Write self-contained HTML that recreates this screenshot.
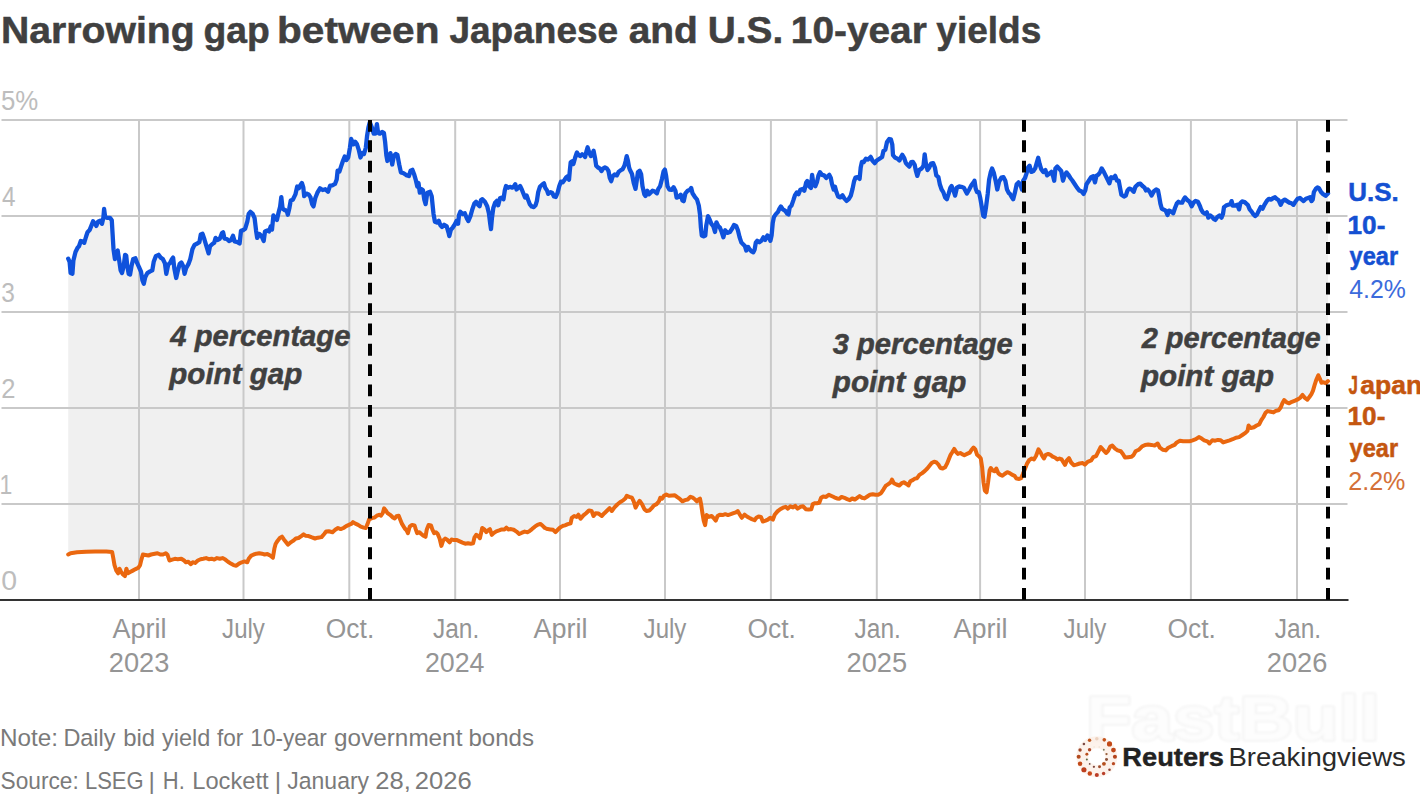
<!DOCTYPE html>
<html><head><meta charset="utf-8"><title>Narrowing gap between Japanese and U.S. 10-year yields</title>
<style>
html,body{margin:0;padding:0;background:#fff;}
body{width:1420px;height:796px;overflow:hidden;font-family:"Liberation Sans",sans-serif;}
svg{display:block;font-family:"Liberation Sans",sans-serif;}
.title{font-weight:bold;font-size:37.7px;fill:#404040;stroke:#404040;stroke-width:0.5px;}
.ylab{font-size:27px;fill:#bdbdbd;}
.xlab{font-size:27px;fill:#959595;}
.ann{font-weight:bold;font-style:italic;font-size:30px;fill:#404040;stroke:#404040;stroke-width:0.5px;}
.usl{font-weight:bold;font-size:26px;fill:#1450d2;stroke:#1450d2;stroke-width:0.5px;}
.usv{font-size:26px;fill:#3b6bdc;}
.jpl{font-weight:bold;font-size:26px;fill:#c4560f;stroke:#c4560f;stroke-width:0.5px;}
.jpv{font-size:26px;fill:#d47038;}
.foot{font-size:24.5px;fill:#7a7a7a;}
.lg1{font-weight:bold;font-size:25.6px;fill:#222;stroke:#222;stroke-width:0.4px;}
.lg2{font-size:25.6px;fill:#2a2a2a;}
</style></head><body>
<svg width="1420" height="796" viewBox="0 0 1420 796">
<rect width="1420" height="796" fill="#ffffff"/>
<defs><filter id="wmb" x="-5%" y="-20%" width="110%" height="140%"><feGaussianBlur stdDeviation="0.9"/></filter></defs>
<text x="1086" y="739.5" font-weight="bold" font-size="63" fill="#fdfdfd" stroke="#f3f3f3" stroke-width="3" paint-order="stroke" stroke-linejoin="round" filter="url(#wmb)" textLength="294" lengthAdjust="spacingAndGlyphs">FastBull</text>
<text class="title" y="43"><tspan x="0.92" textLength="193.73" lengthAdjust="spacingAndGlyphs">Narrowing</tspan> <tspan x="203.51" textLength="66.29" lengthAdjust="spacingAndGlyphs">gap</tspan> <tspan x="277.05" textLength="162.39" lengthAdjust="spacingAndGlyphs">between</tspan> <tspan x="449.40" textLength="168.80" lengthAdjust="spacingAndGlyphs">Japanese</tspan> <tspan x="628.67" textLength="69.21" lengthAdjust="spacingAndGlyphs">and</tspan> <tspan x="707.84" textLength="75.42" lengthAdjust="spacingAndGlyphs">U.S.</tspan> <tspan x="790.84" textLength="135.99" lengthAdjust="spacingAndGlyphs">10-year</tspan> <tspan x="936.30" textLength="104.93" lengthAdjust="spacingAndGlyphs">yields</tspan></text>
<path d="M68.2,258.7 L69.6,261.8 L70.6,273.1 L72.4,273.8 L73.4,260.4 L75.5,252.0 L77.6,247.7 L79.0,246.3 L80.8,241.0 L82.5,241.4 L84.2,242.8 L86.1,236.5 L87.5,232.3 L89.6,230.1 L91.3,225.9 L93.1,221.3 L94.9,223.5 L96.3,225.9 L98.0,221.7 L100.1,220.7 L102.0,223.8 L103.4,217.5 L104.1,209.0 L105.1,216.8 L107.2,217.9 L110.0,217.9 L111.8,220.3 L112.5,232.3 L113.5,249.2 L114.9,259.0 L116.3,252.0 L117.7,250.6 L119.2,260.4 L120.6,270.3 L122.0,273.1 L123.7,266.1 L125.1,254.8 L126.2,255.5 L127.3,266.1 L128.7,273.8 L130.1,274.5 L131.5,266.1 L133.2,259.0 L135.4,258.3 L137.2,263.2 L138.9,266.8 L141.0,271.7 L142.4,280.1 L143.8,283.7 L145.2,277.3 L147.3,273.1 L150.1,271.4 L152.3,270.3 L153.7,261.8 L155.8,256.2 L158.6,254.8 L160.7,257.6 L162.8,259.0 L164.9,263.2 L166.3,273.8 L168.2,264.6 L169.9,263.2 L172.0,259.0 L173.1,257.6 L174.4,268.9 L176.2,278.0 L177.6,271.7 L179.7,263.9 L181.4,262.5 L183.2,266.1 L184.6,273.8 L186.1,268.2 L188.5,263.9 L190.3,259.0 L192.4,249.2 L194.5,244.9 L197.3,243.5 L199.4,242.1 L200.8,234.4 L202.5,233.7 L204.4,239.3 L206.5,246.3 L208.6,253.4 L210.0,246.3 L212.1,244.2 L214.2,242.8 L215.6,237.9 L217.7,240.0 L219.9,238.6 L222.0,233.0 L223.1,232.3 L224.5,238.6 L226.9,239.0 L229.0,241.0 L231.1,240.0 L233.0,235.8 L234.6,241.4 L237.5,242.1 L239.6,243.5 L241.0,230.8 L243.1,230.1 L245.2,228.7 L247.3,221.7 L248.7,213.9 L250.4,211.8 L252.7,213.9 L254.6,218.2 L256.1,230.8 L257.2,237.9 L259.3,234.0 L261.5,235.8 L263.7,241.0 L265.0,231.4 L267.3,230.5 L269.0,231.4 L270.8,226.1 L272.0,229.6 L273.4,215.5 L275.2,218.2 L276.9,219.9 L278.7,212.0 L280.1,206.7 L281.3,197.1 L282.6,208.5 L284.9,210.3 L286.6,210.3 L287.8,214.7 L289.3,208.5 L290.7,200.6 L292.8,199.7 L295.4,194.4 L297.2,186.5 L298.9,188.3 L300.7,184.8 L301.9,183.0 L303.3,187.4 L304.2,196.2 L306.5,193.6 L308.6,194.4 L310.4,197.1 L312.1,204.1 L313.5,206.4 L315.3,198.0 L317.4,192.7 L320.0,188.3 L322.7,190.0 L325.3,189.2 L328.0,191.8 L330.1,185.6 L332.3,185.3 L335.0,183.9 L336.7,179.5 L337.6,170.7 L339.4,171.6 L341.1,166.3 L342.9,161.0 L344.7,156.6 L346.4,160.1 L348.2,157.5 L349.9,147.8 L351.2,139.0 L353.5,144.3 L355.2,141.7 L357.0,144.3 L358.7,149.6 L360.5,157.5 L362.3,153.1 L364.0,154.0 L365.8,147.8 L367.0,136.4 L368.4,127.6 L369.8,122.3 L371.9,127.6 L373.7,133.7 L375.4,133.7 L376.9,124.1 L378.1,132.9 L379.8,133.7 L382.1,132.0 L383.9,132.9 L385.1,141.7 L386.4,155.7 L387.4,161.0 L389.2,156.6 L390.4,153.1 L392.2,164.5 L393.9,155.7 L395.7,154.0 L397.4,154.9 L399.2,164.5 L400.9,172.4 L403.6,173.3 L406.2,175.1 L408.9,176.0 L410.6,170.7 L412.4,169.8 L414.1,174.2 L415.9,180.4 L417.3,186.5 L418.5,183.0 L419.8,192.7 L421.5,189.2 L422.9,190.0 L424.3,199.7 L425.6,204.1 L427.3,192.7 L430.0,191.8 L431.7,196.2 L433.5,213.8 L434.9,221.7 L437.0,222.6 L438.8,220.8 L440.0,224.3 L440.6,225.5 L442.0,226.9 L444.1,224.7 L446.7,226.4 L448.5,232.6 L449.3,236.1 L450.8,229.9 L452.9,227.3 L454.6,224.7 L456.4,221.1 L458.1,223.8 L459.0,215.0 L460.3,211.8 L462.5,214.1 L464.8,213.2 L466.9,218.5 L468.3,221.1 L470.5,215.9 L472.2,209.7 L474.3,203.6 L476.1,201.8 L477.8,204.4 L479.6,206.2 L481.0,200.0 L482.4,199.2 L484.9,201.8 L487.2,206.2 L488.9,213.2 L490.2,223.8 L491.0,229.1 L491.9,218.5 L493.3,208.0 L495.1,202.7 L496.8,200.9 L498.2,205.3 L500.0,198.3 L502.1,197.4 L503.5,199.2 L504.8,190.4 L506.0,186.0 L508.3,187.7 L510.0,186.8 L512.3,187.7 L514.1,186.0 L515.3,184.2 L516.5,189.5 L518.3,187.7 L520.1,186.0 L521.8,189.5 L523.2,193.0 L525.0,197.4 L526.7,195.6 L528.2,200.0 L529.9,204.4 L531.7,206.5 L533.8,207.1 L535.5,205.3 L536.9,200.9 L538.2,192.1 L539.9,186.8 L542.6,184.2 L544.0,183.3 L545.2,187.7 L547.0,190.4 L548.2,193.9 L550.5,192.1 L552.3,193.0 L554.0,196.5 L555.8,197.0 L557.5,193.0 L559.3,186.0 L561.0,181.6 L562.8,182.4 L564.6,179.8 L566.3,177.2 L567.6,176.3 L569.0,179.8 L569.8,171.0 L570.7,162.2 L572.1,161.3 L573.4,164.0 L575.1,157.8 L576.9,152.5 L578.6,155.2 L580.4,156.1 L582.2,154.3 L583.9,155.2 L585.1,156.9 L586.6,150.8 L587.6,147.3 L589.2,152.5 L590.9,156.1 L592.7,153.4 L593.6,150.8 L595.0,157.8 L596.2,165.7 L598.0,167.5 L599.7,168.4 L601.5,171.0 L603.3,168.4 L605.0,167.5 L606.8,168.4 L608.5,171.0 L609.8,178.0 L611.2,181.2 L612.6,176.3 L614.7,174.5 L616.8,175.4 L618.6,171.9 L620.9,170.1 L622.6,169.3 L624.4,165.7 L625.6,161.3 L626.7,156.1 L627.9,160.5 L629.1,167.5 L630.0,170.1 L632.0,174.0 L633.7,182.8 L635.5,188.9 L636.7,181.0 L637.9,172.2 L639.7,170.8 L641.1,174.0 L642.5,186.3 L644.3,194.2 L645.5,196.0 L647.3,190.7 L649.0,194.2 L650.8,192.4 L652.5,190.7 L654.8,191.6 L656.9,193.3 L658.3,188.9 L660.1,186.3 L661.9,179.3 L663.6,171.3 L664.9,169.6 L666.1,175.7 L667.5,186.3 L669.3,189.5 L671.9,189.8 L673.6,187.2 L675.4,190.7 L676.6,197.7 L678.9,196.8 L680.7,194.7 L682.4,200.4 L683.7,201.2 L685.4,193.3 L687.7,190.7 L690.0,189.8 L691.2,188.0 L692.5,193.3 L694.8,196.8 L697.0,199.5 L698.8,205.6 L700.0,214.4 L700.9,227.6 L701.8,235.5 L703.6,236.4 L705.3,235.5 L706.2,225.9 L708.0,216.2 L709.7,219.7 L711.5,224.1 L713.2,225.9 L715.0,232.0 L716.4,222.3 L718.2,225.9 L719.9,227.6 L721.7,232.0 L723.4,237.3 L725.2,230.3 L727.3,232.9 L729.9,232.0 L732.2,228.5 L734.0,225.0 L736.1,225.9 L737.9,230.3 L739.6,237.3 L741.4,242.6 L743.1,244.3 L744.9,246.1 L746.3,250.5 L748.1,247.0 L749.8,249.6 L751.6,251.4 L753.3,252.3 L754.6,249.6 L755.8,242.6 L757.2,240.8 L759.3,242.2 L761.6,240.5 L763.4,237.3 L765.1,239.9 L767.4,235.5 L769.2,237.3 L770.4,240.8 L771.6,235.5 L772.7,223.2 L773.9,217.1 L775.7,214.4 L778.0,211.8 L779.2,209.2 L780.9,206.5 L782.7,209.2 L785.3,210.9 L787.1,213.6 L788.5,214.4 L789.7,207.4 L791.5,205.6 L793.3,200.4 L795.0,195.1 L796.8,192.4 L798.5,194.2 L800.3,189.8 L802.6,188.9 L804.3,190.7 L806.1,182.8 L807.3,181.0 L809.1,186.3 L810.9,188.0 L812.1,174.9 L813.5,184.5 L815.3,186.3 L817.0,181.9 L818.4,175.7 L820.0,172.2 L822.0,174.9 L824.1,175.4 L826.2,178.0 L827.6,176.3 L829.3,174.9 L830.8,178.0 L832.0,184.2 L833.7,189.5 L835.0,186.8 L836.4,192.1 L838.1,196.5 L840.3,197.4 L842.5,195.3 L844.3,198.3 L846.6,200.9 L848.7,199.2 L850.8,195.6 L852.6,188.6 L854.0,181.6 L855.4,177.7 L857.5,177.2 L859.6,178.9 L860.7,167.5 L861.9,161.9 L863.6,162.2 L865.9,158.7 L868.0,159.6 L870.7,156.9 L872.4,160.5 L874.7,163.1 L876.8,160.5 L879.5,158.7 L882.1,156.9 L883.5,150.8 L885.3,149.9 L887.0,142.0 L889.2,139.0 L890.9,139.3 L892.3,144.6 L893.0,155.2 L895.3,157.8 L897.6,158.7 L899.4,160.5 L901.1,156.9 L902.3,154.8 L904.1,157.8 L905.9,163.1 L907.6,164.9 L909.4,166.6 L911.1,162.2 L912.9,161.9 L914.7,164.9 L915.9,171.0 L917.3,175.9 L919.1,170.1 L921.7,168.4 L923.5,165.7 L924.7,154.3 L925.7,162.2 L927.5,170.1 L929.3,167.5 L931.0,163.6 L933.1,163.1 L934.9,167.5 L936.3,175.4 L938.4,177.2 L939.8,184.2 L941.6,189.5 L943.3,192.1 L945.1,197.4 L946.9,199.2 L948.6,193.9 L950.4,187.7 L951.6,186.0 L953.4,190.4 L955.1,195.6 L956.9,187.7 L959.2,186.5 L961.3,186.8 L963.9,187.7 L965.7,191.2 L966.9,193.5 L969.2,189.5 L971.5,185.1 L973.6,182.4 L974.5,180.7 L975.7,188.6 L977.1,192.1 L978.9,192.1 L980.3,198.3 L982.0,208.0 L983.3,215.9 L984.5,216.7 L985.9,208.0 L987.7,193.9 L989.1,179.8 L990.8,171.9 L992.1,168.4 L993.8,172.8 L995.6,180.7 L997.3,189.5 L999.1,181.6 L1001.4,177.7 L1003.5,177.2 L1005.3,180.7 L1007.0,189.5 L1008.8,193.0 L1010.0,193.9 L1011.4,196.5 L1013.2,199.2 L1015.0,192.1 L1016.7,184.2 L1018.5,182.4 L1020.2,184.2 L1022.0,189.5 L1023.2,180.7 L1025.0,178.0 L1026.7,172.8 L1028.1,167.5 L1029.6,165.7 L1031.3,171.9 L1033.4,171.0 L1035.2,168.4 L1036.9,162.2 L1038.2,157.8 L1039.6,164.0 L1041.3,169.3 L1043.1,171.9 L1045.4,170.1 L1047.1,175.4 L1049.3,173.6 L1051.4,171.9 L1053.1,176.3 L1054.2,180.7 L1055.4,168.4 L1057.2,166.6 L1058.9,168.4 L1061.2,171.0 L1063.0,180.7 L1064.7,175.4 L1066.5,172.4 L1068.2,174.5 L1070.4,178.0 L1072.5,180.7 L1074.8,184.2 L1077.0,187.7 L1079.2,190.4 L1081.3,191.2 L1083.6,193.9 L1085.3,190.4 L1086.5,184.2 L1088.8,180.7 L1091.1,177.2 L1093.2,176.3 L1095.0,182.4 L1096.4,175.9 L1098.5,174.5 L1100.3,171.9 L1101.7,168.4 L1103.8,171.9 L1105.5,175.4 L1107.7,179.8 L1109.4,183.3 L1111.2,177.2 L1113.5,178.0 L1115.2,175.9 L1117.0,180.7 L1118.7,180.7 L1120.0,187.7 L1121.4,194.8 L1124.0,196.5 L1125.8,195.6 L1127.5,190.4 L1129.3,188.6 L1131.6,189.5 L1133.7,191.8 L1135.4,186.8 L1138.1,184.2 L1140.4,183.7 L1142.5,186.0 L1144.6,187.7 L1146.0,190.4 L1147.8,189.5 L1149.9,192.1 L1151.6,195.6 L1153.9,191.2 L1156.2,189.5 L1158.0,190.4 L1159.2,196.5 L1160.4,203.6 L1161.8,208.8 L1163.9,209.7 L1165.7,210.6 L1167.5,215.0 L1168.9,210.6 L1171.0,211.5 L1173.3,213.2 L1175.0,208.0 L1176.8,203.6 L1178.5,201.8 L1180.3,202.7 L1182.1,202.7 L1183.8,199.2 L1185.0,197.4 L1187.3,200.0 L1189.6,201.8 L1191.7,206.2 L1193.5,202.7 L1195.6,200.9 L1197.9,201.8 L1200.0,206.2 L1201.1,209.4 L1202.9,212.4 L1204.9,213.9 L1206.8,212.4 L1208.3,217.6 L1210.2,215.4 L1212.0,216.9 L1213.9,219.1 L1215.4,219.9 L1217.4,216.9 L1219.5,215.4 L1221.5,217.6 L1223.0,213.9 L1224.0,207.1 L1226.0,205.6 L1228.2,204.8 L1230.5,204.1 L1231.6,201.1 L1232.8,205.6 L1235.0,205.6 L1237.3,204.8 L1239.1,209.4 L1240.3,203.3 L1242.1,201.5 L1244.1,201.8 L1246.0,203.3 L1247.8,204.8 L1249.7,209.4 L1251.6,211.6 L1253.6,214.6 L1255.1,216.1 L1256.9,214.6 L1258.7,210.9 L1260.7,207.1 L1262.6,208.6 L1264.4,204.8 L1266.7,201.1 L1268.9,198.8 L1271.2,199.6 L1273.2,198.0 L1275.0,197.3 L1276.5,198.8 L1278.7,200.3 L1280.7,204.8 L1282.5,201.1 L1284.8,199.6 L1287.0,201.1 L1289.3,202.6 L1291.6,203.3 L1293.4,204.8 L1295.3,201.8 L1297.6,198.8 L1299.9,198.0 L1301.8,199.6 L1303.6,201.1 L1305.9,198.8 L1308.1,198.0 L1310.0,197.3 L1311.5,201.1 L1312.7,199.6 L1313.9,192.0 L1315.7,189.0 L1317.5,187.5 L1319.0,188.2 L1321.0,192.0 L1323.2,194.3 L1325.5,195.8 L1328.0,193.5 L1328.0,381.1 L1325.7,383.2 L1323.6,382.2 L1321.5,382.8 L1320.0,379.0 L1318.3,375.2 L1316.2,380.1 L1314.5,385.4 L1313.0,390.6 L1311.6,393.8 L1309.4,397.0 L1307.3,399.7 L1304.6,397.6 L1302.5,394.9 L1300.4,397.6 L1298.2,399.1 L1295.1,400.6 L1291.9,401.8 L1289.2,403.3 L1286.6,402.3 L1284.1,400.1 L1282.4,403.3 L1280.7,407.5 L1278.6,410.3 L1276.1,410.7 L1273.5,412.4 L1270.8,411.8 L1267.6,411.1 L1265.5,412.8 L1263.4,417.0 L1261.3,420.2 L1259.2,424.4 L1256.6,425.5 L1253.9,427.2 L1250.7,428.0 L1248.6,425.5 L1247.5,430.8 L1245.4,432.9 L1242.3,435.0 L1239.1,437.1 L1235.9,437.7 L1232.7,439.2 L1229.6,440.3 L1226.4,441.3 L1223.2,442.4 L1220.7,440.3 L1218.0,439.9 L1215.2,440.7 L1212.3,440.3 L1209.5,443.5 L1207.4,441.3 L1204.2,440.3 L1201.7,438.6 L1198.9,437.1 L1195.8,439.2 L1192.6,440.3 L1189.4,441.3 L1186.3,441.3 L1183.1,441.3 L1179.9,440.7 L1176.8,442.4 L1174.6,444.9 L1171.5,446.2 L1168.3,447.7 L1165.8,450.4 L1163.0,449.8 L1159.9,447.7 L1157.7,443.5 L1154.6,445.6 L1151.4,444.9 L1148.2,444.5 L1145.1,444.9 L1141.9,446.6 L1138.7,449.8 L1135.6,451.3 L1133.5,455.1 L1131.3,456.8 L1128.2,457.2 L1125.0,457.6 L1122.9,454.0 L1120.8,451.3 L1117.6,450.4 L1115.1,448.7 L1112.3,445.6 L1110.2,446.6 L1108.1,450.8 L1106.0,453.0 L1103.2,449.8 L1100.7,447.0 L1098.2,451.9 L1096.1,456.1 L1093.3,457.2 L1091.2,460.4 L1087.6,461.8 L1084.9,464.6 L1082.7,463.1 L1079.6,463.5 L1076.4,464.6 L1073.7,465.2 L1071.1,462.5 L1069.0,458.2 L1066.9,460.4 L1065.0,464.9 L1063.5,462.5 L1061.7,459.4 L1059.5,458.5 L1057.3,459.4 L1054.9,457.5 L1052.6,456.6 L1050.4,454.8 L1048.2,453.9 L1045.8,454.8 L1043.9,458.5 L1042.1,455.7 L1040.3,452.0 L1038.5,449.3 L1036.1,455.7 L1033.9,459.4 L1031.7,458.5 L1029.3,459.9 L1026.9,463.9 L1024.7,469.4 L1022.9,474.0 L1021.1,478.2 L1019.2,479.0 L1016.5,478.6 L1014.6,475.8 L1011.9,474.6 L1009.7,473.1 L1007.3,472.2 L1004.6,474.0 L1002.4,475.8 L1000.0,474.6 L998.2,473.1 L996.3,468.5 L994.5,471.3 L992.7,470.4 L990.8,468.0 L989.6,470.4 L988.1,482.3 L986.6,492.3 L984.8,490.5 L983.5,482.3 L982.2,467.6 L980.8,458.5 L979.3,456.6 L977.1,454.8 L975.3,449.3 L973.5,447.5 L971.6,449.7 L969.8,452.6 L967.0,453.9 L964.3,455.2 L962.5,454.4 L960.3,453.0 L957.9,453.9 L956.1,452.0 L954.2,448.9 L952.4,452.0 L950.6,454.8 L948.7,459.4 L946.9,463.9 L945.1,467.2 L942.7,468.5 L940.5,468.0 L938.7,464.9 L936.5,462.5 L934.1,461.7 L931.7,463.0 L929.5,465.8 L927.3,468.5 L924.9,470.9 L922.2,473.1 L919.4,474.9 L917.1,478.2 L914.9,478.6 L912.7,480.1 L910.3,481.3 L908.5,485.5 L906.1,483.7 L903.9,482.3 L901.7,483.2 L899.3,485.5 L896.5,484.5 L893.8,483.2 L892.0,479.5 L890.7,482.3 L888.3,484.1 L885.6,485.9 L883.4,489.6 L881.0,493.2 L878.2,494.7 L875.5,494.7 L872.7,494.2 L870.0,494.7 L867.3,496.5 L864.5,498.4 L862.1,497.8 L859.6,496.0 L857.2,497.8 L854.8,499.6 L852.2,498.4 L849.9,500.2 L847.1,499.1 L844.4,497.8 L841.6,496.9 L839.4,498.7 L837.0,498.4 L834.3,497.3 L831.5,496.0 L828.8,494.7 L826.1,496.9 L823.3,496.5 L821.1,497.8 L819.3,502.8 L816.9,503.3 L815.0,503.2 L812.8,504.1 L811.3,509.2 L808.6,509.6 L805.8,509.2 L803.1,506.3 L800.4,506.8 L797.6,508.7 L795.2,505.9 L793.0,507.4 L790.3,506.3 L787.9,508.7 L785.7,506.8 L783.0,507.7 L780.2,509.2 L777.5,511.4 L774.7,514.7 L772.9,519.6 L770.1,517.8 L767.8,519.6 L765.6,520.6 L762.8,521.5 L761.0,516.9 L758.6,516.5 L756.4,517.8 L754.6,520.2 L751.8,519.1 L749.1,517.8 L746.9,516.5 L744.5,514.7 L741.8,517.8 L739.6,514.2 L737.7,511.0 L735.9,512.3 L733.5,513.2 L730.8,514.2 L728.0,515.1 L725.3,514.2 L722.5,515.1 L719.8,514.7 L717.6,516.0 L715.8,520.6 L713.4,517.8 L711.6,516.0 L708.8,516.9 L706.6,515.1 L705.1,525.1 L703.7,520.6 L702.4,513.2 L701.1,504.1 L700.0,498.6 L698.7,499.5 L696.9,501.3 L695.1,499.5 L692.7,497.7 L690.5,496.8 L687.7,499.5 L685.0,500.1 L682.3,501.3 L679.5,498.6 L677.3,497.1 L674.9,495.3 L672.2,495.5 L668.9,495.8 L666.3,494.6 L663.9,495.8 L662.1,498.6 L660.3,497.7 L659.0,501.3 L656.6,504.1 L653.9,505.5 L651.7,508.1 L649.3,510.5 L646.5,511.0 L644.4,509.2 L642.0,504.1 L639.6,500.8 L637.4,504.1 L635.6,507.7 L633.7,501.3 L631.9,497.7 L629.2,496.8 L626.8,495.8 L625.5,498.2 L623.1,500.4 L620.0,502.3 L617.3,504.5 L614.5,507.4 L611.8,511.0 L609.6,508.1 L607.2,510.5 L604.4,513.2 L601.7,516.0 L598.6,513.6 L595.6,513.2 L593.5,516.0 L591.6,511.0 L588.9,510.5 L586.1,513.2 L583.4,515.4 L580.6,518.7 L578.4,514.7 L576.6,516.9 L574.2,516.0 L571.8,517.8 L570.6,523.3 L567.8,524.2 L565.0,525.4 L563.2,525.8 L560.4,527.2 L557.7,529.8 L555.5,532.2 L553.1,529.8 L550.4,529.4 L547.6,529.1 L544.9,528.0 L542.7,525.8 L540.3,523.9 L537.5,524.9 L534.8,526.7 L532.0,529.1 L529.3,531.3 L527.5,532.2 L524.7,531.6 L522.0,532.7 L519.2,534.0 L516.5,531.6 L513.7,529.8 L511.0,529.1 L508.2,529.4 L506.4,527.6 L504.6,529.4 L501.8,529.4 L499.1,530.4 L496.3,531.3 L493.6,533.1 L491.8,534.9 L489.9,529.1 L488.1,530.4 L486.3,532.2 L484.4,529.4 L482.2,528.0 L481.1,533.1 L479.9,538.2 L478.0,535.8 L476.2,534.9 L474.4,537.7 L473.1,543.2 L470.7,543.7 L468.0,543.2 L465.2,543.7 L462.5,542.6 L459.7,541.3 L457.0,540.1 L454.2,540.1 L451.5,539.5 L449.6,542.3 L446.9,539.5 L445.1,538.6 L443.2,540.4 L441.4,545.9 L439.6,538.6 L437.7,534.0 L435.9,532.2 L434.1,533.1 L432.3,529.4 L431.0,525.4 L428.6,524.9 L426.8,529.4 L425.5,536.8 L423.6,535.8 L421.3,534.0 L419.4,532.2 L417.1,533.1 L415.8,529.4 L414.5,525.4 L412.1,524.9 L409.7,526.7 L407.9,533.1 L406.6,530.4 L404.8,528.5 L402.0,523.9 L400.2,519.4 L398.7,515.7 L396.5,516.3 L394.7,518.5 L392.9,517.5 L390.1,514.8 L387.4,513.0 L385.6,510.2 L384.1,508.4 L382.8,513.0 L381.0,515.7 L379.2,514.8 L376.8,515.7 L374.6,517.5 L371.8,518.1 L369.1,519.4 L367.6,523.9 L365.8,528.0 L363.6,527.6 L360.8,526.7 L358.1,524.9 L355.4,523.6 L353.0,522.1 L351.7,523.6 L348.9,524.9 L346.2,526.1 L343.5,528.0 L340.7,529.1 L338.0,528.0 L335.2,529.8 L332.5,532.2 L328.8,531.3 L326.1,531.6 L324.2,534.0 L321.5,537.1 L317.8,537.7 L315.0,538.5 L311.3,537.2 L308.6,536.1 L305.8,535.8 L303.6,534.3 L301.3,536.1 L298.5,538.0 L295.8,538.5 L293.0,540.9 L290.3,542.7 L287.9,544.6 L286.1,542.2 L283.9,539.4 L282.0,536.7 L279.8,538.0 L277.5,540.9 L275.6,544.0 L274.4,548.6 L272.9,557.7 L270.1,555.5 L267.4,554.1 L264.6,554.5 L261.9,553.7 L259.2,553.2 L256.4,553.7 L253.7,554.5 L250.9,555.9 L248.7,558.7 L247.3,562.3 L244.5,561.4 L241.8,562.3 L239.0,563.6 L236.3,565.8 L233.5,565.1 L230.8,563.6 L228.0,561.8 L225.3,559.6 L222.5,558.1 L219.8,558.7 L217.0,558.1 L214.3,559.6 L211.6,558.7 L208.8,559.2 L206.1,558.1 L203.3,558.7 L200.6,559.2 L197.8,560.5 L195.1,562.9 L192.7,562.3 L190.9,564.2 L188.3,561.8 L185.9,562.3 L184.1,560.5 L181.3,558.7 L177.7,559.2 L174.9,558.8 L172.2,559.6 L169.4,560.5 L167.6,555.0 L165.8,553.2 L163.0,554.5 L160.3,554.5 L157.5,553.2 L154.8,553.7 L151.1,554.5 L148.4,555.5 L145.6,555.0 L142.9,554.5 L141.4,559.6 L140.1,565.1 L138.3,567.8 L135.6,569.1 L132.8,570.6 L130.1,572.0 L127.9,573.3 L126.4,568.7 L124.9,576.1 L122.7,574.2 L120.9,571.5 L119.5,568.7 L118.2,573.3 L116.3,570.6 L114.5,565.1 L113.2,557.7 L112.1,551.9 L106.3,551.5 L95.3,551.5 L86.1,551.7 L77.0,552.3 L70.6,553.2 L68.2,554.5 Z" fill="#f0f0f0" stroke="none"/>
<line x1="1.5" x2="1347.5" y1="120" y2="120" stroke="#c9c9c9" stroke-width="2"/>
<line x1="1.5" x2="1347.5" y1="216" y2="216" stroke="#c9c9c9" stroke-width="2"/>
<line x1="1.5" x2="1347.5" y1="312" y2="312" stroke="#c9c9c9" stroke-width="2"/>
<line x1="1.5" x2="1347.5" y1="408" y2="408" stroke="#c9c9c9" stroke-width="2"/>
<line x1="1.5" x2="1347.5" y1="504" y2="504" stroke="#c9c9c9" stroke-width="2"/>
<line x1="139" x2="139" y1="120" y2="600" stroke="#c9c9c9" stroke-width="2"/>
<line x1="243.5" x2="243.5" y1="120" y2="600" stroke="#c9c9c9" stroke-width="2"/>
<line x1="349.3" x2="349.3" y1="120" y2="600" stroke="#c9c9c9" stroke-width="2"/>
<line x1="455.2" x2="455.2" y1="120" y2="600" stroke="#c9c9c9" stroke-width="2"/>
<line x1="560" x2="560" y1="120" y2="600" stroke="#c9c9c9" stroke-width="2"/>
<line x1="665" x2="665" y1="120" y2="600" stroke="#c9c9c9" stroke-width="2"/>
<line x1="770.9" x2="770.9" y1="120" y2="600" stroke="#c9c9c9" stroke-width="2"/>
<line x1="876.8" x2="876.8" y1="120" y2="600" stroke="#c9c9c9" stroke-width="2"/>
<line x1="980.1" x2="980.1" y1="120" y2="600" stroke="#c9c9c9" stroke-width="2"/>
<line x1="1085.0" x2="1085.0" y1="120" y2="600" stroke="#c9c9c9" stroke-width="2"/>
<line x1="1190.9" x2="1190.9" y1="120" y2="600" stroke="#c9c9c9" stroke-width="2"/>
<line x1="1297" x2="1297" y1="120" y2="600" stroke="#c9c9c9" stroke-width="2"/>
<line x1="0" x2="1348.5" y1="600" y2="600" stroke="#333333" stroke-width="2"/>
<text class="ylab" x="0.94" y="110" textLength="37.34" lengthAdjust="spacingAndGlyphs">5%</text>
<text class="ylab" x="1.90" y="206" textLength="13.53" lengthAdjust="spacingAndGlyphs">4</text>
<text class="ylab" x="1.19" y="302" textLength="13.64" lengthAdjust="spacingAndGlyphs">3</text>
<text class="ylab" x="1.15" y="398" textLength="14.22" lengthAdjust="spacingAndGlyphs">2</text>
<text class="ylab" x="-0.40" y="494" textLength="12.78" lengthAdjust="spacingAndGlyphs">1</text>
<text class="ylab" x="1.25" y="590" textLength="15.84" lengthAdjust="spacingAndGlyphs">0</text>
<text class="ann" x="170.37" y="345.5" textLength="180.02" lengthAdjust="spacingAndGlyphs">4 percentage</text>
<text class="ann" x="169.29" y="383.5" textLength="132.98" lengthAdjust="spacingAndGlyphs">point gap</text>
<text class="ann" x="832.70" y="353.6" textLength="180.09" lengthAdjust="spacingAndGlyphs">3 percentage</text>
<text class="ann" x="832.79" y="391.5" textLength="133.58" lengthAdjust="spacingAndGlyphs">point gap</text>
<text class="ann" x="1141.67" y="347.6" textLength="179.12" lengthAdjust="spacingAndGlyphs">2 percentage</text>
<text class="ann" x="1140.99" y="385.6" textLength="133.18" lengthAdjust="spacingAndGlyphs">point gap</text>
<path d="M68.2,554.5 L70.6,553.2 L77.0,552.3 L86.1,551.7 L95.3,551.5 L106.3,551.5 L112.1,551.9 L113.2,557.7 L114.5,565.1 L116.3,570.6 L118.2,573.3 L119.5,568.7 L120.9,571.5 L122.7,574.2 L124.9,576.1 L126.4,568.7 L127.9,573.3 L130.1,572.0 L132.8,570.6 L135.6,569.1 L138.3,567.8 L140.1,565.1 L141.4,559.6 L142.9,554.5 L145.6,555.0 L148.4,555.5 L151.1,554.5 L154.8,553.7 L157.5,553.2 L160.3,554.5 L163.0,554.5 L165.8,553.2 L167.6,555.0 L169.4,560.5 L172.2,559.6 L174.9,558.8 L177.7,559.2 L181.3,558.7 L184.1,560.5 L185.9,562.3 L188.3,561.8 L190.9,564.2 L192.7,562.3 L195.1,562.9 L197.8,560.5 L200.6,559.2 L203.3,558.7 L206.1,558.1 L208.8,559.2 L211.6,558.7 L214.3,559.6 L217.0,558.1 L219.8,558.7 L222.5,558.1 L225.3,559.6 L228.0,561.8 L230.8,563.6 L233.5,565.1 L236.3,565.8 L239.0,563.6 L241.8,562.3 L244.5,561.4 L247.3,562.3 L248.7,558.7 L250.9,555.9 L253.7,554.5 L256.4,553.7 L259.2,553.2 L261.9,553.7 L264.6,554.5 L267.4,554.1 L270.1,555.5 L272.9,557.7 L274.4,548.6 L275.6,544.0 L277.5,540.9 L279.8,538.0 L282.0,536.7 L283.9,539.4 L286.1,542.2 L287.9,544.6 L290.3,542.7 L293.0,540.9 L295.8,538.5 L298.5,538.0 L301.3,536.1 L303.6,534.3 L305.8,535.8 L308.6,536.1 L311.3,537.2 L315.0,538.5 L317.8,537.7 L321.5,537.1 L324.2,534.0 L326.1,531.6 L328.8,531.3 L332.5,532.2 L335.2,529.8 L338.0,528.0 L340.7,529.1 L343.5,528.0 L346.2,526.1 L348.9,524.9 L351.7,523.6 L353.0,522.1 L355.4,523.6 L358.1,524.9 L360.8,526.7 L363.6,527.6 L365.8,528.0 L367.6,523.9 L369.1,519.4 L371.8,518.1 L374.6,517.5 L376.8,515.7 L379.2,514.8 L381.0,515.7 L382.8,513.0 L384.1,508.4 L385.6,510.2 L387.4,513.0 L390.1,514.8 L392.9,517.5 L394.7,518.5 L396.5,516.3 L398.7,515.7 L400.2,519.4 L402.0,523.9 L404.8,528.5 L406.6,530.4 L407.9,533.1 L409.7,526.7 L412.1,524.9 L414.5,525.4 L415.8,529.4 L417.1,533.1 L419.4,532.2 L421.3,534.0 L423.6,535.8 L425.5,536.8 L426.8,529.4 L428.6,524.9 L431.0,525.4 L432.3,529.4 L434.1,533.1 L435.9,532.2 L437.7,534.0 L439.6,538.6 L441.4,545.9 L443.2,540.4 L445.1,538.6 L446.9,539.5 L449.6,542.3 L451.5,539.5 L454.2,540.1 L457.0,540.1 L459.7,541.3 L462.5,542.6 L465.2,543.7 L468.0,543.2 L470.7,543.7 L473.1,543.2 L474.4,537.7 L476.2,534.9 L478.0,535.8 L479.9,538.2 L481.1,533.1 L482.2,528.0 L484.4,529.4 L486.3,532.2 L488.1,530.4 L489.9,529.1 L491.8,534.9 L493.6,533.1 L496.3,531.3 L499.1,530.4 L501.8,529.4 L504.6,529.4 L506.4,527.6 L508.2,529.4 L511.0,529.1 L513.7,529.8 L516.5,531.6 L519.2,534.0 L522.0,532.7 L524.7,531.6 L527.5,532.2 L529.3,531.3 L532.0,529.1 L534.8,526.7 L537.5,524.9 L540.3,523.9 L542.7,525.8 L544.9,528.0 L547.6,529.1 L550.4,529.4 L553.1,529.8 L555.5,532.2 L557.7,529.8 L560.4,527.2 L563.2,525.8 L565.0,525.4 L567.8,524.2 L570.6,523.3 L571.8,517.8 L574.2,516.0 L576.6,516.9 L578.4,514.7 L580.6,518.7 L583.4,515.4 L586.1,513.2 L588.9,510.5 L591.6,511.0 L593.5,516.0 L595.6,513.2 L598.6,513.6 L601.7,516.0 L604.4,513.2 L607.2,510.5 L609.6,508.1 L611.8,511.0 L614.5,507.4 L617.3,504.5 L620.0,502.3 L623.1,500.4 L625.5,498.2 L626.8,495.8 L629.2,496.8 L631.9,497.7 L633.7,501.3 L635.6,507.7 L637.4,504.1 L639.6,500.8 L642.0,504.1 L644.4,509.2 L646.5,511.0 L649.3,510.5 L651.7,508.1 L653.9,505.5 L656.6,504.1 L659.0,501.3 L660.3,497.7 L662.1,498.6 L663.9,495.8 L666.3,494.6 L668.9,495.8 L672.2,495.5 L674.9,495.3 L677.3,497.1 L679.5,498.6 L682.3,501.3 L685.0,500.1 L687.7,499.5 L690.5,496.8 L692.7,497.7 L695.1,499.5 L696.9,501.3 L698.7,499.5 L700.0,498.6 L701.1,504.1 L702.4,513.2 L703.7,520.6 L705.1,525.1 L706.6,515.1 L708.8,516.9 L711.6,516.0 L713.4,517.8 L715.8,520.6 L717.6,516.0 L719.8,514.7 L722.5,515.1 L725.3,514.2 L728.0,515.1 L730.8,514.2 L733.5,513.2 L735.9,512.3 L737.7,511.0 L739.6,514.2 L741.8,517.8 L744.5,514.7 L746.9,516.5 L749.1,517.8 L751.8,519.1 L754.6,520.2 L756.4,517.8 L758.6,516.5 L761.0,516.9 L762.8,521.5 L765.6,520.6 L767.8,519.6 L770.1,517.8 L772.9,519.6 L774.7,514.7 L777.5,511.4 L780.2,509.2 L783.0,507.7 L785.7,506.8 L787.9,508.7 L790.3,506.3 L793.0,507.4 L795.2,505.9 L797.6,508.7 L800.4,506.8 L803.1,506.3 L805.8,509.2 L808.6,509.6 L811.3,509.2 L812.8,504.1 L815.0,503.2 L816.9,503.3 L819.3,502.8 L821.1,497.8 L823.3,496.5 L826.1,496.9 L828.8,494.7 L831.5,496.0 L834.3,497.3 L837.0,498.4 L839.4,498.7 L841.6,496.9 L844.4,497.8 L847.1,499.1 L849.9,500.2 L852.2,498.4 L854.8,499.6 L857.2,497.8 L859.6,496.0 L862.1,497.8 L864.5,498.4 L867.3,496.5 L870.0,494.7 L872.7,494.2 L875.5,494.7 L878.2,494.7 L881.0,493.2 L883.4,489.6 L885.6,485.9 L888.3,484.1 L890.7,482.3 L892.0,479.5 L893.8,483.2 L896.5,484.5 L899.3,485.5 L901.7,483.2 L903.9,482.3 L906.1,483.7 L908.5,485.5 L910.3,481.3 L912.7,480.1 L914.9,478.6 L917.1,478.2 L919.4,474.9 L922.2,473.1 L924.9,470.9 L927.3,468.5 L929.5,465.8 L931.7,463.0 L934.1,461.7 L936.5,462.5 L938.7,464.9 L940.5,468.0 L942.7,468.5 L945.1,467.2 L946.9,463.9 L948.7,459.4 L950.6,454.8 L952.4,452.0 L954.2,448.9 L956.1,452.0 L957.9,453.9 L960.3,453.0 L962.5,454.4 L964.3,455.2 L967.0,453.9 L969.8,452.6 L971.6,449.7 L973.5,447.5 L975.3,449.3 L977.1,454.8 L979.3,456.6 L980.8,458.5 L982.2,467.6 L983.5,482.3 L984.8,490.5 L986.6,492.3 L988.1,482.3 L989.6,470.4 L990.8,468.0 L992.7,470.4 L994.5,471.3 L996.3,468.5 L998.2,473.1 L1000.0,474.6 L1002.4,475.8 L1004.6,474.0 L1007.3,472.2 L1009.7,473.1 L1011.9,474.6 L1014.6,475.8 L1016.5,478.6 L1019.2,479.0 L1021.1,478.2 L1022.9,474.0 L1024.7,469.4 L1026.9,463.9 L1029.3,459.9 L1031.7,458.5 L1033.9,459.4 L1036.1,455.7 L1038.5,449.3 L1040.3,452.0 L1042.1,455.7 L1043.9,458.5 L1045.8,454.8 L1048.2,453.9 L1050.4,454.8 L1052.6,456.6 L1054.9,457.5 L1057.3,459.4 L1059.5,458.5 L1061.7,459.4 L1063.5,462.5 L1065.0,464.9 L1066.9,460.4 L1069.0,458.2 L1071.1,462.5 L1073.7,465.2 L1076.4,464.6 L1079.6,463.5 L1082.7,463.1 L1084.9,464.6 L1087.6,461.8 L1091.2,460.4 L1093.3,457.2 L1096.1,456.1 L1098.2,451.9 L1100.7,447.0 L1103.2,449.8 L1106.0,453.0 L1108.1,450.8 L1110.2,446.6 L1112.3,445.6 L1115.1,448.7 L1117.6,450.4 L1120.8,451.3 L1122.9,454.0 L1125.0,457.6 L1128.2,457.2 L1131.3,456.8 L1133.5,455.1 L1135.6,451.3 L1138.7,449.8 L1141.9,446.6 L1145.1,444.9 L1148.2,444.5 L1151.4,444.9 L1154.6,445.6 L1157.7,443.5 L1159.9,447.7 L1163.0,449.8 L1165.8,450.4 L1168.3,447.7 L1171.5,446.2 L1174.6,444.9 L1176.8,442.4 L1179.9,440.7 L1183.1,441.3 L1186.3,441.3 L1189.4,441.3 L1192.6,440.3 L1195.8,439.2 L1198.9,437.1 L1201.7,438.6 L1204.2,440.3 L1207.4,441.3 L1209.5,443.5 L1212.3,440.3 L1215.2,440.7 L1218.0,439.9 L1220.7,440.3 L1223.2,442.4 L1226.4,441.3 L1229.6,440.3 L1232.7,439.2 L1235.9,437.7 L1239.1,437.1 L1242.3,435.0 L1245.4,432.9 L1247.5,430.8 L1248.6,425.5 L1250.7,428.0 L1253.9,427.2 L1256.6,425.5 L1259.2,424.4 L1261.3,420.2 L1263.4,417.0 L1265.5,412.8 L1267.6,411.1 L1270.8,411.8 L1273.5,412.4 L1276.1,410.7 L1278.6,410.3 L1280.7,407.5 L1282.4,403.3 L1284.1,400.1 L1286.6,402.3 L1289.2,403.3 L1291.9,401.8 L1295.1,400.6 L1298.2,399.1 L1300.4,397.6 L1302.5,394.9 L1304.6,397.6 L1307.3,399.7 L1309.4,397.0 L1311.6,393.8 L1313.0,390.6 L1314.5,385.4 L1316.2,380.1 L1318.3,375.2 L1320.0,379.0 L1321.5,382.8 L1323.6,382.2 L1325.7,383.2 L1328.0,381.1" fill="none" stroke="#ea670f" stroke-width="4.0" stroke-linejoin="round" stroke-linecap="round"/>
<path d="M68.2,258.7 L69.6,261.8 L70.6,273.1 L72.4,273.8 L73.4,260.4 L75.5,252.0 L77.6,247.7 L79.0,246.3 L80.8,241.0 L82.5,241.4 L84.2,242.8 L86.1,236.5 L87.5,232.3 L89.6,230.1 L91.3,225.9 L93.1,221.3 L94.9,223.5 L96.3,225.9 L98.0,221.7 L100.1,220.7 L102.0,223.8 L103.4,217.5 L104.1,209.0 L105.1,216.8 L107.2,217.9 L110.0,217.9 L111.8,220.3 L112.5,232.3 L113.5,249.2 L114.9,259.0 L116.3,252.0 L117.7,250.6 L119.2,260.4 L120.6,270.3 L122.0,273.1 L123.7,266.1 L125.1,254.8 L126.2,255.5 L127.3,266.1 L128.7,273.8 L130.1,274.5 L131.5,266.1 L133.2,259.0 L135.4,258.3 L137.2,263.2 L138.9,266.8 L141.0,271.7 L142.4,280.1 L143.8,283.7 L145.2,277.3 L147.3,273.1 L150.1,271.4 L152.3,270.3 L153.7,261.8 L155.8,256.2 L158.6,254.8 L160.7,257.6 L162.8,259.0 L164.9,263.2 L166.3,273.8 L168.2,264.6 L169.9,263.2 L172.0,259.0 L173.1,257.6 L174.4,268.9 L176.2,278.0 L177.6,271.7 L179.7,263.9 L181.4,262.5 L183.2,266.1 L184.6,273.8 L186.1,268.2 L188.5,263.9 L190.3,259.0 L192.4,249.2 L194.5,244.9 L197.3,243.5 L199.4,242.1 L200.8,234.4 L202.5,233.7 L204.4,239.3 L206.5,246.3 L208.6,253.4 L210.0,246.3 L212.1,244.2 L214.2,242.8 L215.6,237.9 L217.7,240.0 L219.9,238.6 L222.0,233.0 L223.1,232.3 L224.5,238.6 L226.9,239.0 L229.0,241.0 L231.1,240.0 L233.0,235.8 L234.6,241.4 L237.5,242.1 L239.6,243.5 L241.0,230.8 L243.1,230.1 L245.2,228.7 L247.3,221.7 L248.7,213.9 L250.4,211.8 L252.7,213.9 L254.6,218.2 L256.1,230.8 L257.2,237.9 L259.3,234.0 L261.5,235.8 L263.7,241.0 L265.0,231.4 L267.3,230.5 L269.0,231.4 L270.8,226.1 L272.0,229.6 L273.4,215.5 L275.2,218.2 L276.9,219.9 L278.7,212.0 L280.1,206.7 L281.3,197.1 L282.6,208.5 L284.9,210.3 L286.6,210.3 L287.8,214.7 L289.3,208.5 L290.7,200.6 L292.8,199.7 L295.4,194.4 L297.2,186.5 L298.9,188.3 L300.7,184.8 L301.9,183.0 L303.3,187.4 L304.2,196.2 L306.5,193.6 L308.6,194.4 L310.4,197.1 L312.1,204.1 L313.5,206.4 L315.3,198.0 L317.4,192.7 L320.0,188.3 L322.7,190.0 L325.3,189.2 L328.0,191.8 L330.1,185.6 L332.3,185.3 L335.0,183.9 L336.7,179.5 L337.6,170.7 L339.4,171.6 L341.1,166.3 L342.9,161.0 L344.7,156.6 L346.4,160.1 L348.2,157.5 L349.9,147.8 L351.2,139.0 L353.5,144.3 L355.2,141.7 L357.0,144.3 L358.7,149.6 L360.5,157.5 L362.3,153.1 L364.0,154.0 L365.8,147.8 L367.0,136.4 L368.4,127.6 L369.8,122.3 L371.9,127.6 L373.7,133.7 L375.4,133.7 L376.9,124.1 L378.1,132.9 L379.8,133.7 L382.1,132.0 L383.9,132.9 L385.1,141.7 L386.4,155.7 L387.4,161.0 L389.2,156.6 L390.4,153.1 L392.2,164.5 L393.9,155.7 L395.7,154.0 L397.4,154.9 L399.2,164.5 L400.9,172.4 L403.6,173.3 L406.2,175.1 L408.9,176.0 L410.6,170.7 L412.4,169.8 L414.1,174.2 L415.9,180.4 L417.3,186.5 L418.5,183.0 L419.8,192.7 L421.5,189.2 L422.9,190.0 L424.3,199.7 L425.6,204.1 L427.3,192.7 L430.0,191.8 L431.7,196.2 L433.5,213.8 L434.9,221.7 L437.0,222.6 L438.8,220.8 L440.0,224.3 L440.6,225.5 L442.0,226.9 L444.1,224.7 L446.7,226.4 L448.5,232.6 L449.3,236.1 L450.8,229.9 L452.9,227.3 L454.6,224.7 L456.4,221.1 L458.1,223.8 L459.0,215.0 L460.3,211.8 L462.5,214.1 L464.8,213.2 L466.9,218.5 L468.3,221.1 L470.5,215.9 L472.2,209.7 L474.3,203.6 L476.1,201.8 L477.8,204.4 L479.6,206.2 L481.0,200.0 L482.4,199.2 L484.9,201.8 L487.2,206.2 L488.9,213.2 L490.2,223.8 L491.0,229.1 L491.9,218.5 L493.3,208.0 L495.1,202.7 L496.8,200.9 L498.2,205.3 L500.0,198.3 L502.1,197.4 L503.5,199.2 L504.8,190.4 L506.0,186.0 L508.3,187.7 L510.0,186.8 L512.3,187.7 L514.1,186.0 L515.3,184.2 L516.5,189.5 L518.3,187.7 L520.1,186.0 L521.8,189.5 L523.2,193.0 L525.0,197.4 L526.7,195.6 L528.2,200.0 L529.9,204.4 L531.7,206.5 L533.8,207.1 L535.5,205.3 L536.9,200.9 L538.2,192.1 L539.9,186.8 L542.6,184.2 L544.0,183.3 L545.2,187.7 L547.0,190.4 L548.2,193.9 L550.5,192.1 L552.3,193.0 L554.0,196.5 L555.8,197.0 L557.5,193.0 L559.3,186.0 L561.0,181.6 L562.8,182.4 L564.6,179.8 L566.3,177.2 L567.6,176.3 L569.0,179.8 L569.8,171.0 L570.7,162.2 L572.1,161.3 L573.4,164.0 L575.1,157.8 L576.9,152.5 L578.6,155.2 L580.4,156.1 L582.2,154.3 L583.9,155.2 L585.1,156.9 L586.6,150.8 L587.6,147.3 L589.2,152.5 L590.9,156.1 L592.7,153.4 L593.6,150.8 L595.0,157.8 L596.2,165.7 L598.0,167.5 L599.7,168.4 L601.5,171.0 L603.3,168.4 L605.0,167.5 L606.8,168.4 L608.5,171.0 L609.8,178.0 L611.2,181.2 L612.6,176.3 L614.7,174.5 L616.8,175.4 L618.6,171.9 L620.9,170.1 L622.6,169.3 L624.4,165.7 L625.6,161.3 L626.7,156.1 L627.9,160.5 L629.1,167.5 L630.0,170.1 L632.0,174.0 L633.7,182.8 L635.5,188.9 L636.7,181.0 L637.9,172.2 L639.7,170.8 L641.1,174.0 L642.5,186.3 L644.3,194.2 L645.5,196.0 L647.3,190.7 L649.0,194.2 L650.8,192.4 L652.5,190.7 L654.8,191.6 L656.9,193.3 L658.3,188.9 L660.1,186.3 L661.9,179.3 L663.6,171.3 L664.9,169.6 L666.1,175.7 L667.5,186.3 L669.3,189.5 L671.9,189.8 L673.6,187.2 L675.4,190.7 L676.6,197.7 L678.9,196.8 L680.7,194.7 L682.4,200.4 L683.7,201.2 L685.4,193.3 L687.7,190.7 L690.0,189.8 L691.2,188.0 L692.5,193.3 L694.8,196.8 L697.0,199.5 L698.8,205.6 L700.0,214.4 L700.9,227.6 L701.8,235.5 L703.6,236.4 L705.3,235.5 L706.2,225.9 L708.0,216.2 L709.7,219.7 L711.5,224.1 L713.2,225.9 L715.0,232.0 L716.4,222.3 L718.2,225.9 L719.9,227.6 L721.7,232.0 L723.4,237.3 L725.2,230.3 L727.3,232.9 L729.9,232.0 L732.2,228.5 L734.0,225.0 L736.1,225.9 L737.9,230.3 L739.6,237.3 L741.4,242.6 L743.1,244.3 L744.9,246.1 L746.3,250.5 L748.1,247.0 L749.8,249.6 L751.6,251.4 L753.3,252.3 L754.6,249.6 L755.8,242.6 L757.2,240.8 L759.3,242.2 L761.6,240.5 L763.4,237.3 L765.1,239.9 L767.4,235.5 L769.2,237.3 L770.4,240.8 L771.6,235.5 L772.7,223.2 L773.9,217.1 L775.7,214.4 L778.0,211.8 L779.2,209.2 L780.9,206.5 L782.7,209.2 L785.3,210.9 L787.1,213.6 L788.5,214.4 L789.7,207.4 L791.5,205.6 L793.3,200.4 L795.0,195.1 L796.8,192.4 L798.5,194.2 L800.3,189.8 L802.6,188.9 L804.3,190.7 L806.1,182.8 L807.3,181.0 L809.1,186.3 L810.9,188.0 L812.1,174.9 L813.5,184.5 L815.3,186.3 L817.0,181.9 L818.4,175.7 L820.0,172.2 L822.0,174.9 L824.1,175.4 L826.2,178.0 L827.6,176.3 L829.3,174.9 L830.8,178.0 L832.0,184.2 L833.7,189.5 L835.0,186.8 L836.4,192.1 L838.1,196.5 L840.3,197.4 L842.5,195.3 L844.3,198.3 L846.6,200.9 L848.7,199.2 L850.8,195.6 L852.6,188.6 L854.0,181.6 L855.4,177.7 L857.5,177.2 L859.6,178.9 L860.7,167.5 L861.9,161.9 L863.6,162.2 L865.9,158.7 L868.0,159.6 L870.7,156.9 L872.4,160.5 L874.7,163.1 L876.8,160.5 L879.5,158.7 L882.1,156.9 L883.5,150.8 L885.3,149.9 L887.0,142.0 L889.2,139.0 L890.9,139.3 L892.3,144.6 L893.0,155.2 L895.3,157.8 L897.6,158.7 L899.4,160.5 L901.1,156.9 L902.3,154.8 L904.1,157.8 L905.9,163.1 L907.6,164.9 L909.4,166.6 L911.1,162.2 L912.9,161.9 L914.7,164.9 L915.9,171.0 L917.3,175.9 L919.1,170.1 L921.7,168.4 L923.5,165.7 L924.7,154.3 L925.7,162.2 L927.5,170.1 L929.3,167.5 L931.0,163.6 L933.1,163.1 L934.9,167.5 L936.3,175.4 L938.4,177.2 L939.8,184.2 L941.6,189.5 L943.3,192.1 L945.1,197.4 L946.9,199.2 L948.6,193.9 L950.4,187.7 L951.6,186.0 L953.4,190.4 L955.1,195.6 L956.9,187.7 L959.2,186.5 L961.3,186.8 L963.9,187.7 L965.7,191.2 L966.9,193.5 L969.2,189.5 L971.5,185.1 L973.6,182.4 L974.5,180.7 L975.7,188.6 L977.1,192.1 L978.9,192.1 L980.3,198.3 L982.0,208.0 L983.3,215.9 L984.5,216.7 L985.9,208.0 L987.7,193.9 L989.1,179.8 L990.8,171.9 L992.1,168.4 L993.8,172.8 L995.6,180.7 L997.3,189.5 L999.1,181.6 L1001.4,177.7 L1003.5,177.2 L1005.3,180.7 L1007.0,189.5 L1008.8,193.0 L1010.0,193.9 L1011.4,196.5 L1013.2,199.2 L1015.0,192.1 L1016.7,184.2 L1018.5,182.4 L1020.2,184.2 L1022.0,189.5 L1023.2,180.7 L1025.0,178.0 L1026.7,172.8 L1028.1,167.5 L1029.6,165.7 L1031.3,171.9 L1033.4,171.0 L1035.2,168.4 L1036.9,162.2 L1038.2,157.8 L1039.6,164.0 L1041.3,169.3 L1043.1,171.9 L1045.4,170.1 L1047.1,175.4 L1049.3,173.6 L1051.4,171.9 L1053.1,176.3 L1054.2,180.7 L1055.4,168.4 L1057.2,166.6 L1058.9,168.4 L1061.2,171.0 L1063.0,180.7 L1064.7,175.4 L1066.5,172.4 L1068.2,174.5 L1070.4,178.0 L1072.5,180.7 L1074.8,184.2 L1077.0,187.7 L1079.2,190.4 L1081.3,191.2 L1083.6,193.9 L1085.3,190.4 L1086.5,184.2 L1088.8,180.7 L1091.1,177.2 L1093.2,176.3 L1095.0,182.4 L1096.4,175.9 L1098.5,174.5 L1100.3,171.9 L1101.7,168.4 L1103.8,171.9 L1105.5,175.4 L1107.7,179.8 L1109.4,183.3 L1111.2,177.2 L1113.5,178.0 L1115.2,175.9 L1117.0,180.7 L1118.7,180.7 L1120.0,187.7 L1121.4,194.8 L1124.0,196.5 L1125.8,195.6 L1127.5,190.4 L1129.3,188.6 L1131.6,189.5 L1133.7,191.8 L1135.4,186.8 L1138.1,184.2 L1140.4,183.7 L1142.5,186.0 L1144.6,187.7 L1146.0,190.4 L1147.8,189.5 L1149.9,192.1 L1151.6,195.6 L1153.9,191.2 L1156.2,189.5 L1158.0,190.4 L1159.2,196.5 L1160.4,203.6 L1161.8,208.8 L1163.9,209.7 L1165.7,210.6 L1167.5,215.0 L1168.9,210.6 L1171.0,211.5 L1173.3,213.2 L1175.0,208.0 L1176.8,203.6 L1178.5,201.8 L1180.3,202.7 L1182.1,202.7 L1183.8,199.2 L1185.0,197.4 L1187.3,200.0 L1189.6,201.8 L1191.7,206.2 L1193.5,202.7 L1195.6,200.9 L1197.9,201.8 L1200.0,206.2 L1201.1,209.4 L1202.9,212.4 L1204.9,213.9 L1206.8,212.4 L1208.3,217.6 L1210.2,215.4 L1212.0,216.9 L1213.9,219.1 L1215.4,219.9 L1217.4,216.9 L1219.5,215.4 L1221.5,217.6 L1223.0,213.9 L1224.0,207.1 L1226.0,205.6 L1228.2,204.8 L1230.5,204.1 L1231.6,201.1 L1232.8,205.6 L1235.0,205.6 L1237.3,204.8 L1239.1,209.4 L1240.3,203.3 L1242.1,201.5 L1244.1,201.8 L1246.0,203.3 L1247.8,204.8 L1249.7,209.4 L1251.6,211.6 L1253.6,214.6 L1255.1,216.1 L1256.9,214.6 L1258.7,210.9 L1260.7,207.1 L1262.6,208.6 L1264.4,204.8 L1266.7,201.1 L1268.9,198.8 L1271.2,199.6 L1273.2,198.0 L1275.0,197.3 L1276.5,198.8 L1278.7,200.3 L1280.7,204.8 L1282.5,201.1 L1284.8,199.6 L1287.0,201.1 L1289.3,202.6 L1291.6,203.3 L1293.4,204.8 L1295.3,201.8 L1297.6,198.8 L1299.9,198.0 L1301.8,199.6 L1303.6,201.1 L1305.9,198.8 L1308.1,198.0 L1310.0,197.3 L1311.5,201.1 L1312.7,199.6 L1313.9,192.0 L1315.7,189.0 L1317.5,187.5 L1319.0,188.2 L1321.0,192.0 L1323.2,194.3 L1325.5,195.8 L1328.0,193.5" fill="none" stroke="#0f52dc" stroke-width="4.3" stroke-linejoin="round" stroke-linecap="round"/>
<line x1="370" x2="370" y1="120" y2="600" stroke="#000" stroke-width="4" stroke-dasharray="11.8 8.55"/>
<line x1="1024" x2="1024" y1="120" y2="600" stroke="#000" stroke-width="4" stroke-dasharray="11.8 8.55"/>
<line x1="1328" x2="1328" y1="120" y2="600" stroke="#000" stroke-width="4" stroke-dasharray="11.8 8.55"/>
<text class="xlab" x="112.50" y="638" textLength="54.02" lengthAdjust="spacingAndGlyphs">April</text>
<text class="xlab" x="108.74" y="671.8" textLength="60.60" lengthAdjust="spacingAndGlyphs">2023</text>
<text class="xlab" x="222.10" y="638" textLength="42.81" lengthAdjust="spacingAndGlyphs">July</text>
<text class="xlab" x="325.82" y="638" textLength="48.44" lengthAdjust="spacingAndGlyphs">Oct.</text>
<text class="xlab" x="433.00" y="638" textLength="46.25" lengthAdjust="spacingAndGlyphs">Jan.</text>
<text class="xlab" x="424.96" y="671.8" textLength="59.57" lengthAdjust="spacingAndGlyphs">2024</text>
<text class="xlab" x="533.50" y="638" textLength="54.02" lengthAdjust="spacingAndGlyphs">April</text>
<text class="xlab" x="643.60" y="638" textLength="42.81" lengthAdjust="spacingAndGlyphs">July</text>
<text class="xlab" x="747.42" y="638" textLength="48.44" lengthAdjust="spacingAndGlyphs">Oct.</text>
<text class="xlab" x="854.60" y="638" textLength="46.25" lengthAdjust="spacingAndGlyphs">Jan.</text>
<text class="xlab" x="846.54" y="671.8" textLength="60.60" lengthAdjust="spacingAndGlyphs">2025</text>
<text class="xlab" x="953.60" y="638" textLength="54.02" lengthAdjust="spacingAndGlyphs">April</text>
<text class="xlab" x="1063.60" y="638" textLength="42.81" lengthAdjust="spacingAndGlyphs">July</text>
<text class="xlab" x="1167.42" y="638" textLength="48.44" lengthAdjust="spacingAndGlyphs">Oct.</text>
<text class="xlab" x="1274.80" y="638" textLength="46.25" lengthAdjust="spacingAndGlyphs">Jan.</text>
<text class="xlab" x="1266.74" y="671.8" textLength="60.60" lengthAdjust="spacingAndGlyphs">2026</text>
<text class="usl" x="1348.30" y="201.4" textLength="50.47" lengthAdjust="spacingAndGlyphs">U.S.</text>
<text class="usl" x="1347.59" y="233.6" textLength="37.79" lengthAdjust="spacingAndGlyphs">10-</text>
<text class="usl" x="1349.60" y="265.0" textLength="48.45" lengthAdjust="spacingAndGlyphs">year</text>
<text class="usv" x="1349.20" y="298.4" textLength="56.55" lengthAdjust="spacingAndGlyphs">4.2%</text>
<text class="jpl" y="393.5"><tspan x="1348.50" textLength="9.46" lengthAdjust="spacingAndGlyphs">J</tspan><tspan x="1360.30" textLength="61.82" lengthAdjust="spacingAndGlyphs">apan</tspan></text>
<text class="jpl" x="1347.59" y="425.4" textLength="37.79" lengthAdjust="spacingAndGlyphs">10-</text>
<text class="jpl" x="1349.60" y="456.6" textLength="48.45" lengthAdjust="spacingAndGlyphs">year</text>
<text class="jpv" x="1348.23" y="489.8" textLength="57.22" lengthAdjust="spacingAndGlyphs">2.2%</text>
<text class="foot" y="746.0"><tspan x="-0.08" textLength="58.03" lengthAdjust="spacingAndGlyphs">Note:</tspan> <tspan x="63.39" textLength="52.11" lengthAdjust="spacingAndGlyphs">Daily</tspan> <tspan x="123.22" textLength="31.94" lengthAdjust="spacingAndGlyphs">bid</tspan> <tspan x="162.00" textLength="48.33" lengthAdjust="spacingAndGlyphs">yield</tspan> <tspan x="216.90" textLength="26.33" lengthAdjust="spacingAndGlyphs">for</tspan> <tspan x="250.36" textLength="76.51" lengthAdjust="spacingAndGlyphs">10-year</tspan> <tspan x="334.11" textLength="128.28" lengthAdjust="spacingAndGlyphs">government</tspan> <tspan x="468.42" textLength="65.53" lengthAdjust="spacingAndGlyphs">bonds</tspan></text>
<text class="foot" y="789.4"><tspan x="0.57" textLength="78.16" lengthAdjust="spacingAndGlyphs">Source:</tspan> <tspan x="84.90" textLength="58.73" lengthAdjust="spacingAndGlyphs">LSEG</tspan> <tspan x="148.50" textLength="6.38" lengthAdjust="spacingAndGlyphs">|</tspan> <tspan x="162.81" textLength="21.93" lengthAdjust="spacingAndGlyphs">H.</tspan> <tspan x="192.27" textLength="76.33" lengthAdjust="spacingAndGlyphs">Lockett</tspan> <tspan x="274.70" textLength="6.38" lengthAdjust="spacingAndGlyphs">|</tspan> <tspan x="287.30" textLength="81.76" lengthAdjust="spacingAndGlyphs">January</tspan> <tspan x="375.26" textLength="35.49" lengthAdjust="spacingAndGlyphs">28,</tspan> <tspan x="414.75" textLength="56.98" lengthAdjust="spacingAndGlyphs">2026</tspan></text>
<g id="logo">
<circle cx="1096.8" cy="756.8" r="14.5" fill="none" stroke="#fbe9dd" stroke-width="12" opacity="0.6"/>
<circle cx="1096.82" cy="738.83" r="1.77" fill="#ecd2c0"/><circle cx="1104.28" cy="739.84" r="1.83" fill="#c4531c"/><circle cx="1109.51" cy="743.92" r="2.58" fill="#c24a18"/><circle cx="1113.45" cy="750.03" r="2.38" fill="#c0481a"/><circle cx="1114.94" cy="756.82" r="2.04" fill="#b4441c"/><circle cx="1113.45" cy="763.74" r="1.63" fill="#b94a22"/><circle cx="1109.51" cy="769.71" r="1.29" fill="#8e4030"/><circle cx="1103.60" cy="773.45" r="1.70" fill="#b8402a"/><circle cx="1096.82" cy="774.94" r="2.04" fill="#bb3c26"/><circle cx="1089.82" cy="773.58" r="2.24" fill="#c9481a"/><circle cx="1083.92" cy="769.71" r="2.58" fill="#bd3f1e"/><circle cx="1080.05" cy="763.74" r="2.24" fill="#c24818"/><circle cx="1078.69" cy="756.82" r="2.04" fill="#b34a1e"/><circle cx="1080.05" cy="750.03" r="1.70" fill="#9c4428"/><circle cx="1083.92" cy="743.92" r="1.29" fill="#7c4a44"/><circle cx="1089.55" cy="740.18" r="1.70" fill="#c0561e"/><circle cx="1089.55" cy="749.69" r="1.70" fill="#b04a28"/><circle cx="1086.84" cy="754.30" r="1.49" fill="#b8501e"/><circle cx="1086.84" cy="759.53" r="1.02" fill="#5e6a44"/><circle cx="1089.69" cy="763.94" r="0.88" fill="#6a4a44"/><circle cx="1093.90" cy="766.80" r="1.15" fill="#80463a"/><circle cx="1099.53" cy="766.66" r="1.49" fill="#a04c2c"/><circle cx="1103.94" cy="763.81" r="1.90" fill="#b4501e"/><circle cx="1106.52" cy="759.53" r="1.49" fill="#8a5038"/><circle cx="1106.52" cy="754.10" r="1.15" fill="#96603c"/><circle cx="1103.81" cy="749.82" r="0.95" fill="#7a8060"/><circle cx="1099.19" cy="746.97" r="0.68" fill="#e8dccc"/><circle cx="1094.10" cy="746.97" r="0.68" fill="#ece0d0"/>
</g>
<text class="lg1" x="1122.34" y="766" textLength="101.50" lengthAdjust="spacingAndGlyphs">Reuters</text>
<text class="lg2" x="1228.45" y="766" textLength="177.44" lengthAdjust="spacingAndGlyphs">Breakingviews</text>
</svg>
</body></html>
